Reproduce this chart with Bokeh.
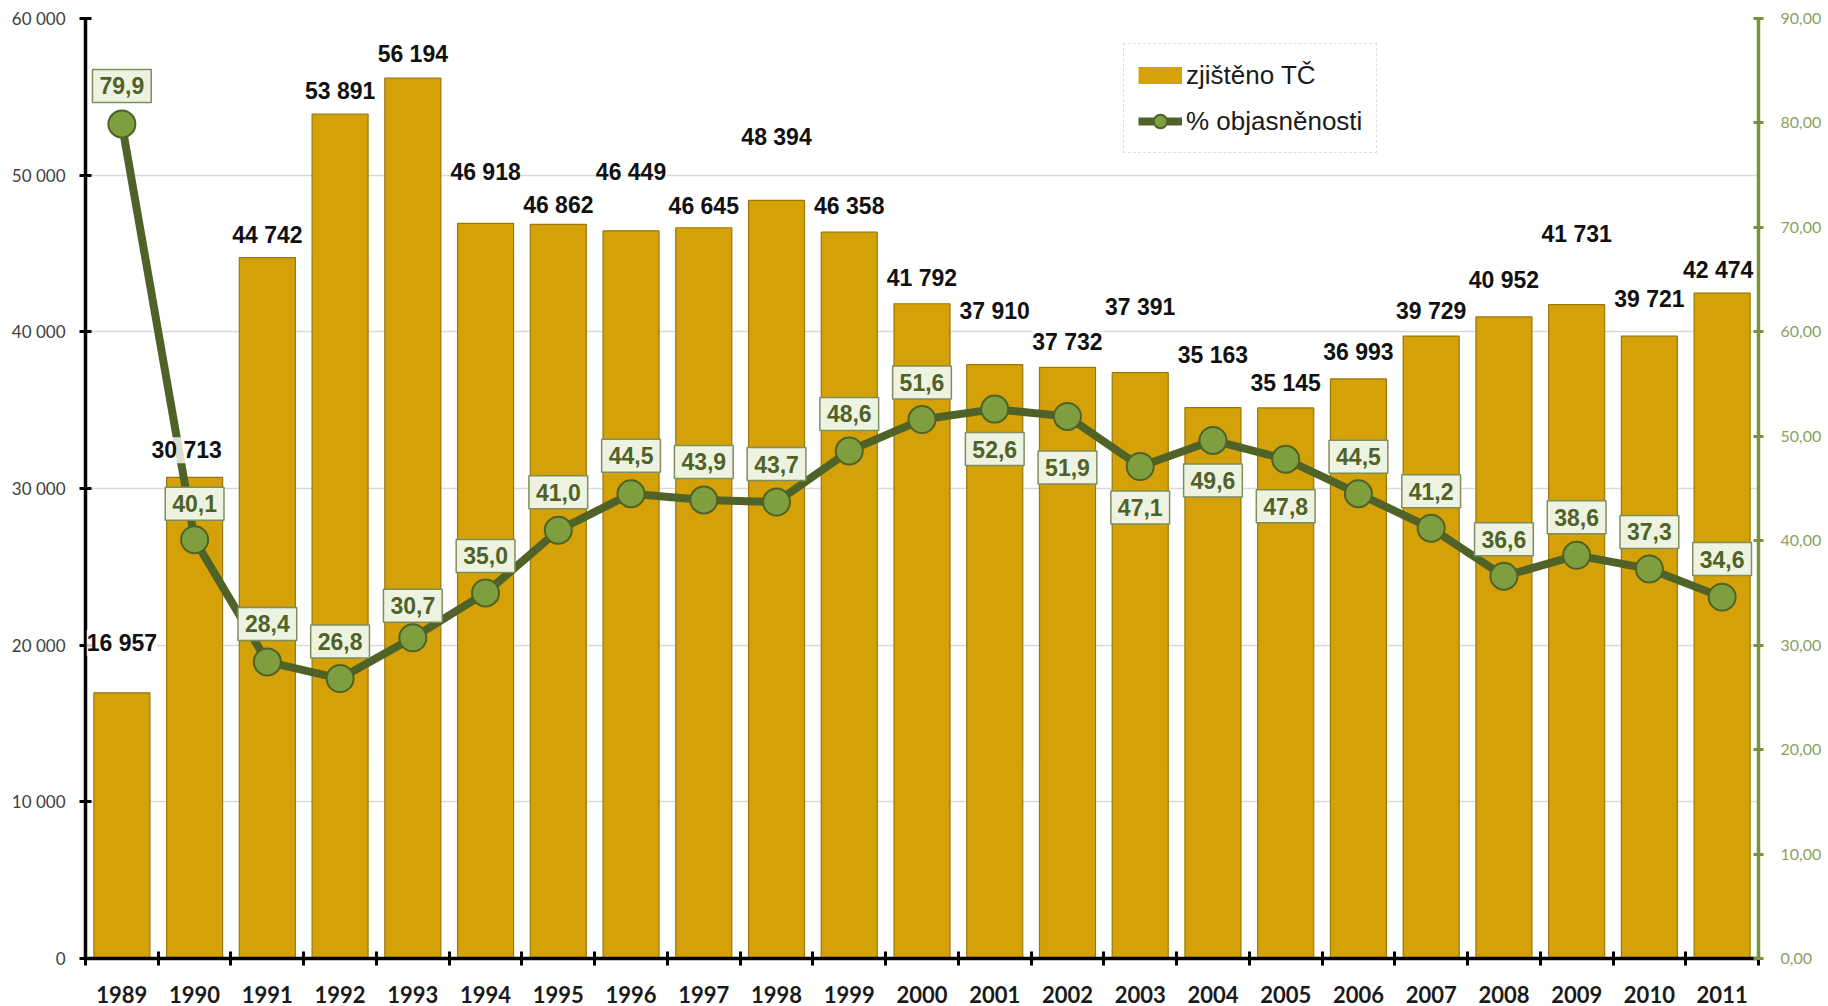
import numpy as np
from bokeh.plotting import figure
from bokeh.models import (Range1d, LinearAxis, FixedTicker, Legend, LegendItem,
                          LabelSet, ColumnDataSource)
from bokeh.core.properties import value
from bokeh.embed import file_html
from bokeh.resources import INLINE

# ---- data -------------------------------------------------------------
years = [str(y) for y in range(1989, 2012)]
cases = [16957, 30713, 44742, 53891, 56194, 46918, 46862, 46449, 46645, 48394,
         46358, 41792, 37910, 37732, 37391, 35163, 35145, 36993, 39729, 40952,
         41731, 39721, 42474]
clearance = [79.9, 40.1, 28.4, 26.8, 30.7, 35.0, 41.0, 44.5, 43.9, 43.7, 48.6,
             51.6, 52.6, 51.9, 47.1, 49.6, 47.8, 44.5, 41.2, 36.6, 38.6, 37.3, 34.6]
left_ticks = [0, 10000, 20000, 30000, 40000, 50000, 60000]
right_ticks = [0, 10, 20, 30, 40, 50, 60, 70, 80, 90]

# ---- label placement (screen pixels) ----------------------------------
case_label_lift = [50, 27, 23, 23, 24, 51, 19, 59, 22, 63, 26, 26, 54, 25, 66,
                   53, 25, 27, 25, 37, 71, 37, 23]
case_label_shift = [0, -8, 0, 0, 0, 0, 0, 0, 0, 0, 0, 0, 0, 0, 0, 0, 0, 0, 0,
                    0, 0, 0, -4]
pct_label_dy = [-38, -36, -38, -37, -32, -37, -38, -38, -38, -38, -37, -37, 40,
                51, 41, 40, 47, -37, -37, -37, -38, -37, -38]

idx = list(range(len(years)))
src = ColumnDataSource(dict(
    x=idx,
    cases=cases,
    pct=clearance,
    case_text=[f"{v:,}".replace(",", " ") for v in cases],
    pct_text=[f"{v:.1f}".replace(".", ",") for v in clearance],
    case_lift=case_label_lift,
    case_dx=case_label_shift,
    pct_dy=pct_label_dy,
))

BAR = "#D5A108"
BAR_EDGE = "#9A760B"
GREEN_DARK = "#4F6228"
GREEN_PT = "#7F9F3E"
SANS = "Liberation Sans"

p = figure(width=1828, height=1006, x_range=Range1d(-0.5, len(years) - 0.5),
           y_range=Range1d(0, 60000), output_backend="svg", toolbar_location=None,
           min_border_left=85, min_border_right=70, min_border_top=18,
           min_border_bottom=48)
p.extra_y_ranges = {"pct": Range1d(0, 90)}
p.outline_line_color = None
p.background_fill_color = "white"
p.border_fill_color = "white"

# grid
p.xgrid.visible = False
p.ygrid.ticker = FixedTicker(ticks=left_ticks)
p.ygrid.grid_line_color = "#D9D9D9"
p.ygrid.grid_line_width = 1.5

# bars
bars = p.vbar(x="x", top="cases", width=0.77, source=src, fill_color=BAR,
              line_color=BAR_EDGE, line_width=1.2)

# line + markers
ln = p.line(x="x", y="pct", source=src, y_range_name="pct", line_color=GREEN_DARK,
            line_width=8)
pts = p.scatter(x="x", y="pct", source=src, y_range_name="pct", size=27,
                fill_color=GREEN_PT, line_color=GREEN_DARK, line_width=2)

# percent labels (boxed)
p.text(x="x", y="pct", text="pct_text", y_offset="pct_dy", source=src,
       y_range_name="pct", text_align="center", text_baseline="middle",
       text_font=value(SANS), text_font_style="bold", text_font_size="23px",
       text_color=GREEN_DARK, background_fill_color="#EEF3E1",
       border_line_color="#7D8F5A", border_line_width=1.5,
       padding=dict(x=7, y=8))

# bar value labels
labels = LabelSet(x="x", y="cases", text="case_text", x_offset="case_dx",
                  y_offset="case_lift", source=src, text_align="center",
                  text_baseline="middle", text_font=value(SANS),
                  text_font_style="bold", text_font_size="23px",
                  text_color="#111111", background_fill_color="white",
                  background_fill_alpha=0.8)
p.add_layout(labels)

# left axis
yl = p.yaxis[0]
yl.ticker = FixedTicker(ticks=left_ticks)
yl.major_label_overrides = {t: f"{t:,}".replace(",", " ") for t in left_ticks}
yl.axis_line_color = "black"
yl.axis_line_width = 3.5
yl.major_tick_line_color = "black"
yl.major_tick_line_width = 3
yl.major_tick_in = 6
yl.major_tick_out = 6
yl.minor_tick_line_color = None
yl.major_label_standoff = 14
yl.major_label_text_font = "Lato"
yl.major_label_text_font_size = "17px"
yl.major_label_text_color = "#404040"

# right axis
yr = LinearAxis(y_range_name="pct", ticker=FixedTicker(ticks=right_ticks))
yr.major_label_overrides = {t: f"{t},00" for t in right_ticks}
yr.axis_line_color = "#77933C"
yr.axis_line_width = 3.5
yr.major_tick_line_color = "#77933C"
yr.major_tick_line_width = 3
yr.major_tick_in = 5
yr.major_tick_out = 5
yr.minor_tick_line_color = None
yr.major_label_standoff = 17
yr.major_label_text_font = "Lato"
yr.major_label_text_font_size = "16px"
yr.major_label_text_color = "#8CA062"
p.add_layout(yr, "right")

# x axis: labels at category centres, tick marks at category boundaries
xa = p.xaxis[0]
xa.ticker = FixedTicker(ticks=idx, minor_ticks=[i - 0.5 for i in range(len(years) + 1)])
xa.major_label_overrides = {i: y for i, y in zip(idx, years)}
xa.axis_line_color = "black"
xa.axis_line_width = 3.5
xa.major_tick_in = 0
xa.major_tick_out = 0
xa.major_tick_line_color = None
xa.minor_tick_line_color = "black"
xa.minor_tick_line_width = 3
xa.minor_tick_in = 7
xa.minor_tick_out = 7
xa.major_label_standoff = 20
xa.major_label_text_font = "Lato"
xa.major_label_text_font_style = "bold"
xa.major_label_text_font_size = "22px"
xa.major_label_text_color = "#1A1A1A"

# legend (bar swatch drawn as a thick gold stroke; its single point is NaN, so
# nothing is drawn in the plot area)
swatch = p.line(x=np.array([np.nan]), y=np.array([np.nan]), line_color=BAR,
                line_width=17, line_cap="butt")
legend = Legend(items=[LegendItem(label="zjištěno TČ", renderers=[swatch]),
                       LegendItem(label="% objasněnosti", renderers=[ln, pts])],
                location=(1038, 805), orientation="vertical",
                border_line_color="#BFBFBF", border_line_dash="4 3",
                border_line_width=1.5, background_fill_color="white",
                background_fill_alpha=1.0, padding=14, spacing=12,
                glyph_width=44, glyph_height=34, label_height=34,
                label_standoff=4, label_text_font=SANS,
                label_text_font_size="26px", label_text_color="#1A1A1A",
                margin=0)
p.add_layout(legend)

open("out.html", "w").write(file_html(p, INLINE))
